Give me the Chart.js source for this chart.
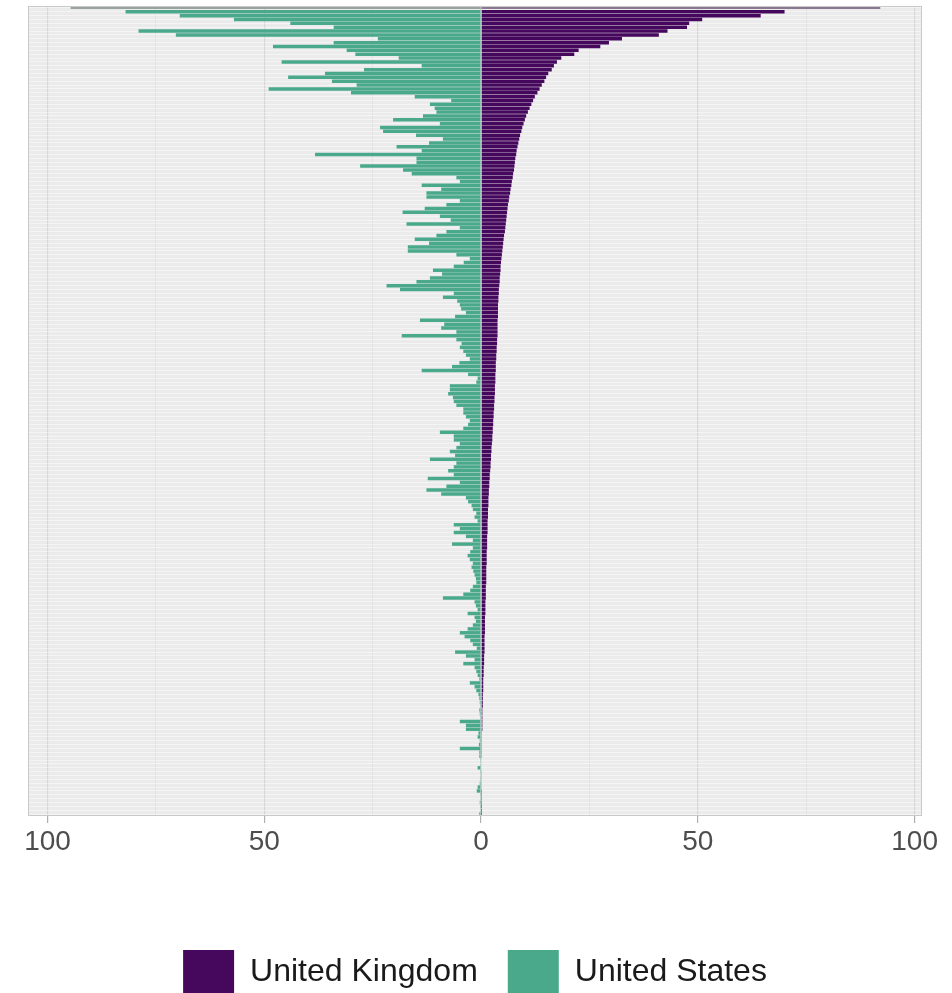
<!DOCTYPE html>
<html>
<head>
<meta charset="utf-8">
<script src="https://cdn.jsdelivr.net/npm/chart.js@4.4.1/dist/chart.umd.min.js"></script>
<style>
    body { margin: 0; background: #ffffff; overflow: hidden; }
    #wrap { width: 952px; height: 1005px; position: relative; }
</style>
</head>
<body>
<div id="wrap"><canvas id="myChart"></canvas></div>
<script>
// values, one entry per row, top row first
const ukValues = [
    92, 70, 64.5, 51, 48, 47.5, 43, 41, 32.5, 29.5, 27.5, 22.5, 21.5, 18.5, 17.5, 16.8, 16.3, 15.5, 15.0, 14.6, 14.0, 13.5, 13.0, 12.4, 12.0,
    11.6, 11.2, 10.8, 10.4, 10.1, 9.8, 9.5, 9.3, 9.0, 8.8,
    8.6, 8.4, 8.2, 8.1, 7.9, 7.8, 7.7, 7.6, 7.4, 7.3,
    7.1, 7.0, 6.8, 6.7, 6.5, 6.4, 6.2, 6.1, 6.0, 5.9, 5.8,
    5.7, 5.6, 5.5, 5.3, 5.2, 5.1, 5.0, 4.9, 4.8, 4.7,
    4.6, 4.5, 4.5, 4.4, 4.3, 4.3, 4.2, 4.1, 4.1, 4.0, 4.0,
    3.9, 3.9, 3.9, 3.9, 3.8, 3.8, 3.8, 3.8, 3.8, 3.7,
    3.7, 3.6, 3.6, 3.5, 3.5, 3.4, 3.4, 3.4, 3.3, 3.3, 3.3, 3.2, 3.2, 3.2, 3.1,
    3.1, 3.0, 3.0, 2.9, 2.9, 2.8, 2.8, 2.7, 2.7, 2.6, 2.6, 2.5, 2.4,
    2.4, 2.3, 2.3, 2.2, 2.2, 2.1, 2.0, 2.0, 1.9, 1.9, 1.8, 1.8, 1.7,
    1.7, 1.7, 1.6, 1.6, 1.6, 1.5, 1.5, 1.5, 1.5, 1.4, 1.4, 1.4, 1.4, 1.3, 1.3, 1.3,
    1.3, 1.2, 1.2, 1.2, 1.2, 1.2, 1.1, 1.1, 1.1, 1.1,
    1.0, 1.0, 1.0, 1.0, 0.9, 0.9, 0.9, 0.9, 0.9, 0.8, 0.8, 0.8, 0.8,
    0.8, 0.7, 0.7, 0.7, 0.6, 0.6, 0.6, 0.5, 0.5, 0.5, 0.5, 0.4, 0.4,
    0.4, 0.4, 0.3, 0.3, 0.3, 0.3, 0.3, 0.3, 0.2, 0.2, 0.2, 0.2, 0.2,
    0.2, 0.2, 0.15, 0.15, 0.15, 0.1, 0.1, 0.1, 0.1, 0.1, 0.05, 0.05, 0.05, 0.05, 0.02, 0.02, 0.01
];

const usValues = [
    94.6, 82, 69.5, 57, 44, 34, 79, 70.4, 23.8, 34,
    48, 31, 29, 19, 46, 13.7, 27, 36, 44.5, 34.4,
    28.7, 49, 30, 15.3, 6.9, 11.8, 10.7, 10.3, 13.4, 20.3,
    9.5, 23.3, 22.6, 15, 8.8, 12, 19.5, 13.7, 38.3, 14.9,
    14.9, 27.9, 18, 16, 5.7, 4.9, 13.7, 9.2, 12.6, 12.6,
    4.9, 8, 13, 18.1, 9.5, 7, 17.2, 4.9, 8, 10.3,
    15.3, 12, 16.9, 16.9, 5.7, 2.6, 4, 6.3, 11.1, 9,
    11.8, 14.9, 21.8, 18.7, 6.3, 8.8, 5.5, 4.9, 4.6, 3.5,
    6, 14.1, 8.5, 9.2, 5.7, 18.3, 5.7, 4.5, 4.9, 4.1,
    3.5, 2.6, 5, 6.7, 13.7, 3, 0.8, 1.1, 7.2, 7.2,
    7.6, 6.5, 6.3, 5.7, 4.1, 4.1, 3.5, 2.6, 3, 4.1,
    9.5, 6.3, 6.3, 4.9, 5.7, 7.2, 6, 11.8, 5.7, 6.3,
    7.6, 6.3, 12.3, 4.9, 8, 12.6, 9.2, 3.5, 3, 2.2,
    1.9, 1.1, 1.5, 0.8, 6.3, 4.9, 6.3, 3.5, 1.9, 6.7,
    1.9, 2.5, 3.1, 2.6, 1.9, 2.2, 1.8, 1.5, 1.2, 1.1,
    1.9, 2.5, 4.1, 8.8, 1.5, 1.2, 0.8, 3.1, 1.5, 1.2,
    1.9, 3.1, 4.9, 3.8, 2.5, 1.9, 1, 6, 3.5, 1.5,
    4.1, 1.5, 1.1, 0.8, 0.4, 2.6, 1.5, 1.1, 0.6, 0.4,
    0.3, 0.2, 0.4, 0.3, 0.2, 4.9, 3.5, 3.5, 0.6, 0.8,
    0.3, 0.5, 4.9, 0.4, 0.4, 0.2, 0.1, 0.8, 0.2, 0.1,
    0.2, 0.3, 0.8, 1, 0.2, 0.1, 0.3, 0.2, 0.1, 0.4
];

const seriesNames = ["United Kingdom", "United States"];
const seriesColors = ["#46085c", "#4aa98b"];
const tickLabels = [-100, -50, 0, 50, 100];

const rows = ukValues.map((v, i) => "row " + (i + 1));

// the first row only shows as a thin line at the top of the panel
const ukMain = ukValues.map((v, i) => i === 0 ? null : v);
const usMain = usValues.map((v, i) => i === 0 ? null : -v);
const ukTop = ukValues.map((v, i) => i === 0 ? v : null);
const usTop = usValues.map((v, i) => i === 0 ? -v : null);

const panelPlugin = {
    id: "panel",
    beforeDraw: (chart) => {
        const {ctx, chartArea} = chart;
        ctx.save();
        ctx.fillStyle = "#ebebeb";
        ctx.fillRect(chartArea.left, chartArea.top, chartArea.right - chartArea.left, chartArea.bottom - chartArea.top);
        ctx.restore();
    },
    afterDraw: (chart) => {
        const {ctx, chartArea} = chart;
        ctx.save();
        ctx.strokeStyle = "#c9c9c9";
        ctx.lineWidth = 1;
        ctx.strokeRect(chartArea.left + 0.5, chartArea.top + 0.5, chartArea.right - chartArea.left - 1, chartArea.bottom - chartArea.top - 1);
        ctx.restore();
    }
};

const renderChart = () => {
    const data = {
        labels: rows,
        datasets: [
            { label: seriesNames[0], data: ukMain, backgroundColor: seriesColors[0], barPercentage: 0.9, categoryPercentage: 1 },
            { label: seriesNames[1], data: usMain, backgroundColor: seriesColors[1], barPercentage: 0.9, categoryPercentage: 1 },
            { label: "top", data: ukTop, backgroundColor: "#8a7890", barThickness: 1.5 },
            { label: "top", data: usTop, backgroundColor: "#98a39e", barThickness: 1.5 }
        ]
    };

    const config = {
        type: "bar",
        data,
        options: {
            indexAxis: "y",
            responsive: true,
            maintainAspectRatio: false,
            animation: false,
            layout: { padding: { left: 28, right: 30, top: 6, bottom: 0 } },
            plugins: {
                tooltip: { enabled: false },
                legend: {
                    position: "bottom",
                    labels: {
                        filter: (item) => item.text !== "top",
                        boxWidth: 51,
                        boxHeight: 45,
                        padding: 30,
                        color: "#1a1a1a",
                        font: { family: "'Liberation Sans', Arial, sans-serif", size: 32 }
                    }
                }
            },
            scales: {
                x: {
                    stacked: true,
                    min: -104.5,
                    max: 101.7,
                    border: { display: false },
                    afterFit: (scale) => { scale.height = 104; },
                    grid: {
                        color: (ctx) => ctx.tick && ctx.tick.value % 50 === 0 ? "#d5d5d5" : "#dddddd",
                        lineWidth: (ctx) => ctx.tick && ctx.tick.value % 50 === 0 ? 1.2 : 0.8,
                        tickColor: (ctx) => ctx.tick && tickLabels.includes(ctx.tick.value) ? "#b0b0b0" : "rgba(0,0,0,0)",
                        tickLength: 7
                    },
                    ticks: {
                        stepSize: 25,
                        includeBounds: false,
                        maxRotation: 0,
                        autoSkip: false,
                        padding: 2,
                        color: "#4d4d4d",
                        font: { family: "'Liberation Sans', Arial, sans-serif", size: 28 },
                        callback: (v) => tickLabels.includes(v) ? Math.abs(v) : ""
                    }
                },
                y: {
                    stacked: true,
                    offset: true,
                    border: { display: false },
                    grid: { offset: false, color: "rgba(255,255,255,0.55)", lineWidth: 0.8, drawTicks: false },
                    ticks: { display: false }
                }
            }
        },
        plugins: [panelPlugin]
    };

    new Chart(document.getElementById("myChart"), config);
};
renderChart();
</script>
</body>
</html>
